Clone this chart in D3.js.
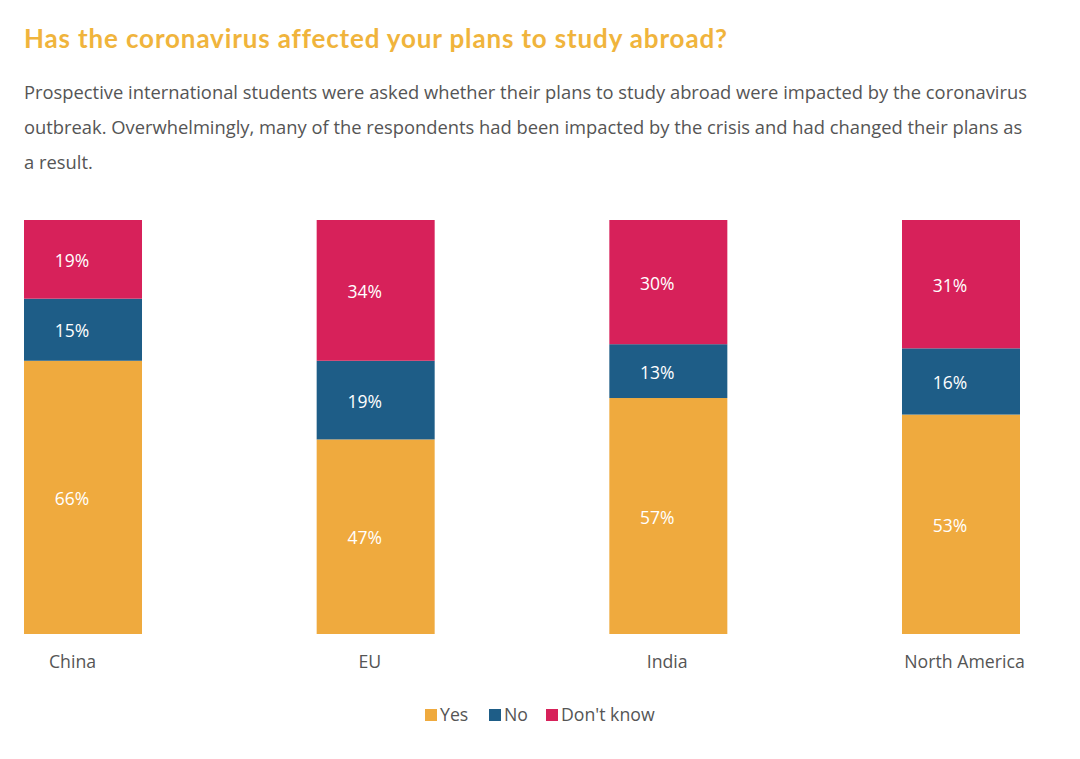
<!DOCTYPE html>
<html><head><meta charset="utf-8">
<script src="https://cdn.jsdelivr.net/npm/d3@7"></script>
<style>body{margin:0;background:#fff;} svg{display:block;}</style>
</head><body>
<svg id="chart" width="1080" height="759"></svg>
<script>
const categories = ["China", "EU", "India", "North America"];
const seriesNames = ["Yes", "No", "Don't know"];
const yesValues = [66, 47, 57, 53];
const noValues = [15, 19, 13, 16];
const dontKnowValues = [19, 34, 30, 31];
const colors = ["#efaa3e", "#1e5d87", "#d7215a"];
const titleText = "Has the coronavirus affected your plans to study abroad?";
const subtitleLines = [
  "Prospective international students were asked whether their plans to study abroad were impacted by the coronavirus",
  "outbreak. Overwhelmingly, many of the respondents had been impacted by the crisis and had changed their plans as",
  "a result."
];

const svg = d3.select("#chart");
svg.append("text").attr("x", 24).attr("y", 48)
  .attr("font-family", "Lato, 'Open Sans', sans-serif").attr("font-weight", 700)
  .attr("font-size", 26).attr("letter-spacing", 0.85).attr("fill", "#f0b43c").text(titleText);
subtitleLines.forEach((l, i) => {
  svg.append("text").attr("x", 24).attr("y", 99 + i * 35)
    .attr("font-family", "'Open Sans', sans-serif").attr("font-size", 18.35)
    .attr("fill", "#555").text(l);
});

const rows = categories.map((c, i) => ({cat: c, "Yes": yesValues[i], "No": noValues[i], "Don't know": dontKnowValues[i]}));
const stack = d3.stack().keys(seriesNames)(rows);
const x = d3.scaleBand().domain(categories).range([24, 1020]).paddingInner(0.5968).paddingOuter(0);
const xLabel = d3.scalePoint().domain(categories).range([72, 964]);
const y = d3.scaleLinear().domain([0, 100]).range([634, 220]);
const color = d3.scaleOrdinal().domain(seriesNames).range(colors);

const g = svg.append("g");
stack.forEach(s => {
  const layer = g.append("g").attr("fill", color(s.key));
  layer.selectAll("rect").data(s).join("rect")
    .attr("x", d => x(d.data.cat)).attr("width", x.bandwidth())
    .attr("y", d => y(d[1])).attr("height", d => y(d[0]) - y(d[1]));
  g.selectAll(null).data(s).join("text")
    .attr("x", d => x(d.data.cat) + x.bandwidth() / 2 - 11)
    .attr("y", d => (y(d[0]) + y(d[1])) / 2 + 1.5)
    .attr("dy", "0.35em").attr("text-anchor", "middle")
    .attr("font-family", "'Open Sans', sans-serif").attr("font-size", 17.5)
    .attr("fill", "#fff").text(d => (d[1] - d[0]) + "%");
});

const xAxis = svg.append("g").attr("transform", "translate(0,634)")
  .call(d3.axisBottom(xLabel).tickSize(0).tickPadding(21));
xAxis.select(".domain").remove();
xAxis.selectAll("text").attr("font-family", "'Open Sans', sans-serif")
  .attr("font-size", 17.7).attr("fill", "#555");

const legendX = [425, 489, 546];
const legend = svg.append("g");
seriesNames.forEach((n, i) => {
  legend.append("rect").attr("x", legendX[i]).attr("y", 709).attr("width", 12).attr("height", 12).attr("fill", colors[i]);
  legend.append("text").attr("x", legendX[i] + 15).attr("y", 715).attr("dy", "0.35em")
    .attr("font-family", "'Open Sans', sans-serif").attr("font-size", 17.7).attr("fill", "#555").text(n);
});
</script>
</body></html>
